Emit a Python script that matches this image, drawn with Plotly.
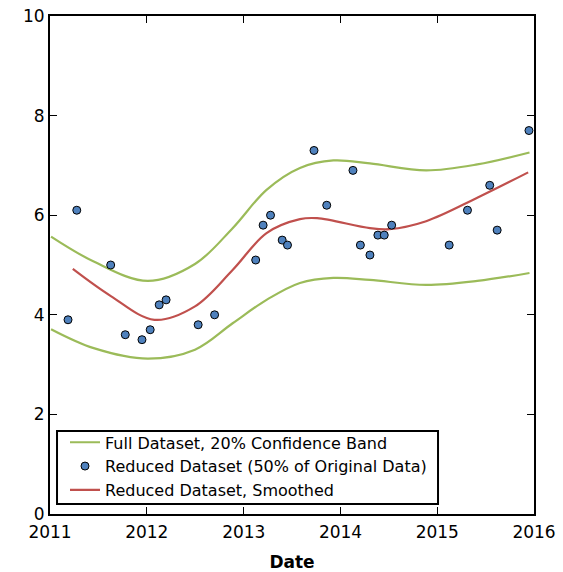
import plotly.graph_objects as go

# Reduced dataset points
point_dates = ["2011-03-10", "2011-04-12", "2011-08-18", "2011-10-12", "2011-12-14",
               "2012-01-14", "2012-02-17", "2012-03-14", "2012-07-13", "2012-09-13",
               "2013-02-15", "2013-03-15", "2013-04-12", "2013-05-26", "2013-06-15",
               "2013-09-23", "2013-11-10", "2014-02-17", "2014-03-17", "2014-04-22",
               "2014-05-22", "2014-06-15", "2014-07-13", "2015-02-15", "2015-04-25",
               "2015-07-18", "2015-08-15", "2015-12-13"]
point_values = [3.9, 6.1, 5.0, 3.6, 3.5, 3.7, 4.2, 4.3, 3.8, 4.0,
                5.1, 5.8, 6.0, 5.5, 5.4, 7.3, 6.2, 6.9, 5.4, 5.2,
                5.6, 5.6, 5.8, 5.4, 6.1, 6.6, 5.7, 7.7]

# Confidence band (full dataset)
band_dates = ["2011-01-05", "2011-06-15", "2012-01-05", "2012-07-01", "2012-11-20",
              "2013-03-28", "2013-08-01", "2013-12-05", "2014-04-22", "2014-11-20",
              "2015-06-01", "2015-12-15"]
band_upper = [5.57, 5.07, 4.68, 5.02, 5.74, 6.51, 6.95, 7.10, 7.04, 6.90, 7.02, 7.26]
band_lower = [3.71, 3.33, 3.12, 3.30, 3.83, 4.30, 4.64, 4.74, 4.70, 4.60, 4.68, 4.84]

# Smoothed reduced dataset
smooth_dates = ["2011-03-28", "2011-08-20", "2012-01-30", "2012-07-01", "2012-11-20",
                "2013-03-28", "2013-08-01", "2013-10-05", "2014-04-22", "2014-07-05",
                "2014-11-20", "2015-06-01", "2015-12-10"]
smooth_values = [4.92, 4.37, 3.90, 4.17, 4.90, 5.64, 5.92, 5.94, 5.74, 5.72, 5.88, 6.35, 6.86]

x_ticks = ["2011-01-01", "2012-01-01", "2013-01-01", "2014-01-01", "2015-01-01", "2016-01-01"]
x_tick_labels = ["2011", "2012", "2013", "2014", "2015", "2016"]

GREEN = "#9BBB59"
RED = "#C0504D"
BLUE = "#4F81BD"
FONT = "DejaVu Sans"

fig = go.Figure()
fig.add_trace(go.Scatter(x=band_dates, y=band_upper, mode="lines",
                         line=dict(color=GREEN, width=2.2, shape="spline"),
                         name="Full Dataset, 20% Confidence Band",
                         legendgroup="g1", legendrank=1))
fig.add_trace(go.Scatter(x=band_dates, y=band_lower, mode="lines",
                         line=dict(color=GREEN, width=2.2, shape="spline"),
                         name="Full Dataset, 20% Confidence Band",
                         legendgroup="g1", showlegend=False))
fig.add_trace(go.Scatter(x=smooth_dates, y=smooth_values, mode="lines",
                         line=dict(color=RED, width=2.2, shape="spline"),
                         name="Reduced Dataset, Smoothed",
                         legendgroup="g3", legendrank=3))
fig.add_trace(go.Scatter(x=point_dates, y=point_values, mode="markers",
                         marker=dict(color=BLUE, size=8, line=dict(color="black", width=1)),
                         name="Reduced Dataset (50% of Original Data)",
                         legendgroup="g2", legendrank=2))

# legend frame drawn as a paper-coordinate box
fig.add_shape(type="rect", xref="paper", yref="paper",
              x0=0.0145, x1=0.8017, y0=0.0201, y1=0.1667,
              fillcolor="white", line=dict(color="black", width=2), layer="above")

fig.update_layout(
    width=563, height=572,
    margin=dict(l=50, r=29, t=16, b=58),
    plot_bgcolor="white", paper_bgcolor="white",
    font=dict(family=FONT, color="black", size=17),
    showlegend=True,
    legend=dict(x=0.031, y=0.178, xanchor="left", yanchor="top",
                borderwidth=0, bgcolor="rgba(0,0,0,0)",
                font=dict(family=FONT, size=16), tracegroupgap=1,
                traceorder="normal"),
    xaxis=dict(range=["2011-01-01", "2016-01-01"], type="date",
               tickvals=x_ticks, ticktext=x_tick_labels, automargin=False,
               ticks="inside", ticklen=7, tickwidth=1.2, tickcolor="black",
               showline=True, linecolor="black", linewidth=2, mirror="ticks",
               showgrid=False, zeroline=False, ticklabelstandoff=2,
               title=dict(text="<b>Date</b>", font=dict(size=17), standoff=16)),
    yaxis=dict(range=[0, 10], tickvals=[0, 2, 4, 6, 8, 10], automargin=False,
               ticks="inside", ticklen=7, tickwidth=1.2, tickcolor="black",
               showline=True, linecolor="black", linewidth=2, mirror="ticks",
               showgrid=False, zeroline=False),
)

fig.write_html("out.html", config={"displayModeBar": False},
               post_script="document.body.style.margin='0px';document.body.style.padding='0px';")
